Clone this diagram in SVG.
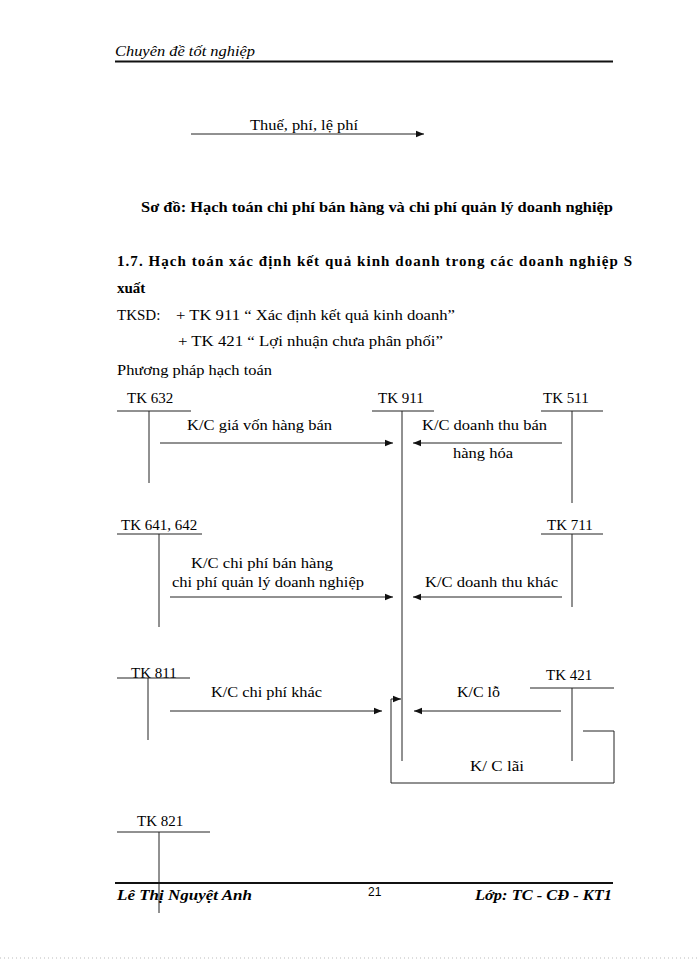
<svg xmlns="http://www.w3.org/2000/svg" width="700" height="960" viewBox="0 0 700 960">
<style>
text{font-family:"Liberation Serif","Times New Roman",serif;font-size:15px;fill:#000}
.b{font-weight:bold}
.hdr{font-style:italic;font-size:15px}
.ftr{font-style:italic;font-weight:bold}
.pg{font-family:"Liberation Sans",Arial,sans-serif;font-size:12px}
.ln{stroke:#222;stroke-width:1;fill:none}
.ar{stroke:#222;stroke-width:1;fill:none;marker-end:url(#ah)}
</style>
<defs>
<marker id="ah" viewBox="0 0 10 10" refX="10" refY="5" markerWidth="8" markerHeight="8" markerUnits="userSpaceOnUse" orient="auto">
<path d="M0,1 L10,5 L0,9 Z" fill="#111"/>
</marker>
</defs>
<rect width="700" height="960" fill="#fff"/>
<g id="header">
<text class="hdr" x="115" y="56" textLength="140" lengthAdjust="spacingAndGlyphs">Chuyên đề tốt nghiệp</text>
<line x1="115" y1="61.5" x2="613" y2="61.5" stroke="#111" stroke-width="2"/>
</g>
<g id="top-arrow">
<text x="250" y="130" textLength="108" lengthAdjust="spacingAndGlyphs">Thuế, phí, lệ phí</text>
<line class="ar" x1="191" y1="134" x2="424" y2="134"/>
</g>
<g id="texts">
<text class="b" x="141" y="212" textLength="472" lengthAdjust="spacingAndGlyphs">Sơ đồ: Hạch toán chi phí bán hàng và chi phí quản lý doanh nghiệp</text>
<text class="b" x="117" y="266" textLength="515" lengthAdjust="spacing">1.7. Hạch toán xác định kết quả kinh doanh trong các doanh nghiệp S</text>
<text class="b" x="117" y="293">xuất</text>
<text x="117" y="320">TKSD:</text>
<text x="176" y="320" textLength="279" lengthAdjust="spacingAndGlyphs">+ TK 911  “ Xác định kết quả kinh  doanh”</text>
<text x="178" y="346" textLength="265" lengthAdjust="spacingAndGlyphs">+ TK 421  “ Lợi nhuận chưa phân phối”</text>
<text x="117" y="375" textLength="155" lengthAdjust="spacingAndGlyphs">Phương pháp hạch toán</text>
</g>
<g id="tk632">
<text x="127" y="403">TK 632</text>
<line class="ln" x1="117" y1="411" x2="191" y2="411"/>
<line class="ln" x1="149" y1="411" x2="149" y2="483"/>
</g>
<g id="tk911">
<text x="378" y="403">TK 911</text>
<line class="ln" x1="372" y1="411" x2="434" y2="411"/>
<line class="ln" x1="402" y1="411" x2="402" y2="761"/>
</g>
<g id="tk511">
<text x="543" y="403">TK 511</text>
<line class="ln" x1="541" y1="411" x2="603" y2="411"/>
<line class="ln" x1="572" y1="411" x2="572" y2="503"/>
</g>
<g id="tk641">
<text x="121" y="530">TK 641, 642</text>
<line class="ln" x1="117" y1="534" x2="202" y2="534"/>
<line class="ln" x1="159" y1="534" x2="159" y2="627"/>
</g>
<g id="tk711">
<text x="547" y="530">TK 711</text>
<line class="ln" x1="541" y1="534" x2="603" y2="534"/>
<line class="ln" x1="572" y1="534" x2="572" y2="607"/>
</g>
<g id="tk811">
<text x="131" y="678">TK 811</text>
<line class="ln" x1="117" y1="678" x2="190" y2="678"/>
<line class="ln" x1="148" y1="678" x2="148" y2="740"/>
</g>
<g id="tk421">
<text x="546" y="680">TK 421</text>
<line class="ln" x1="530" y1="688" x2="614" y2="688"/>
<line class="ln" x1="572" y1="688" x2="572" y2="761"/>
</g>
<g id="tk821">
<text x="137" y="826">TK 821</text>
<line class="ln" x1="117" y1="832" x2="210" y2="832"/>
<line class="ln" x1="159" y1="832" x2="159" y2="913"/>
</g>
<g id="connectors">
<line class="ar" x1="160" y1="443" x2="393" y2="443"/>
<line class="ar" x1="562" y1="443" x2="413" y2="443"/>
<line class="ar" x1="170" y1="597" x2="393" y2="597"/>
<line class="ar" x1="562" y1="597" x2="413" y2="597"/>
<line class="ar" x1="170" y1="711" x2="382" y2="711"/>
<line class="ar" x1="561" y1="711" x2="414" y2="711"/>
<polyline class="ar" points="583,731 614,731 614,783 391,783 391,699 401,699"/>
</g>
<g id="labels">
<text x="187" y="430" textLength="145" lengthAdjust="spacingAndGlyphs">K/C giá  vốn hàng bán</text>
<text x="422" y="430" textLength="125" lengthAdjust="spacingAndGlyphs">K/C doanh thu bán</text>
<text x="453" y="458" textLength="60" lengthAdjust="spacingAndGlyphs">hàng hóa</text>
<text x="191" y="568" textLength="142" lengthAdjust="spacingAndGlyphs">K/C chi phí bán hàng</text>
<text x="172" y="587" textLength="192" lengthAdjust="spacingAndGlyphs">chi phí quản lý  doanh nghiệp</text>
<text x="425" y="587" textLength="133" lengthAdjust="spacingAndGlyphs">K/C doanh thu khác</text>
<text x="211" y="697" textLength="111" lengthAdjust="spacingAndGlyphs">K/C chi phí khác</text>
<text x="457" y="697" textLength="43" lengthAdjust="spacingAndGlyphs">K/C lỗ</text>
<text x="470" y="771" textLength="54" lengthAdjust="spacingAndGlyphs">K/ C lãi</text>
</g>
<g id="footer">
<line x1="115" y1="883" x2="613" y2="883" stroke="#111" stroke-width="2"/>
<text class="ftr" x="117" y="900" textLength="135" lengthAdjust="spacingAndGlyphs">Lê Thị Nguyệt Anh</text>
<text class="pg" x="368" y="896">21</text>
<text class="ftr" x="475" y="900" textLength="137" lengthAdjust="spacingAndGlyphs">Lớp: TC - CĐ - KT1</text>
<line x1="0" y1="958" x2="700" y2="958" stroke="#bbb" stroke-width="1" stroke-dasharray="1,3"/>
</g>
</svg>
